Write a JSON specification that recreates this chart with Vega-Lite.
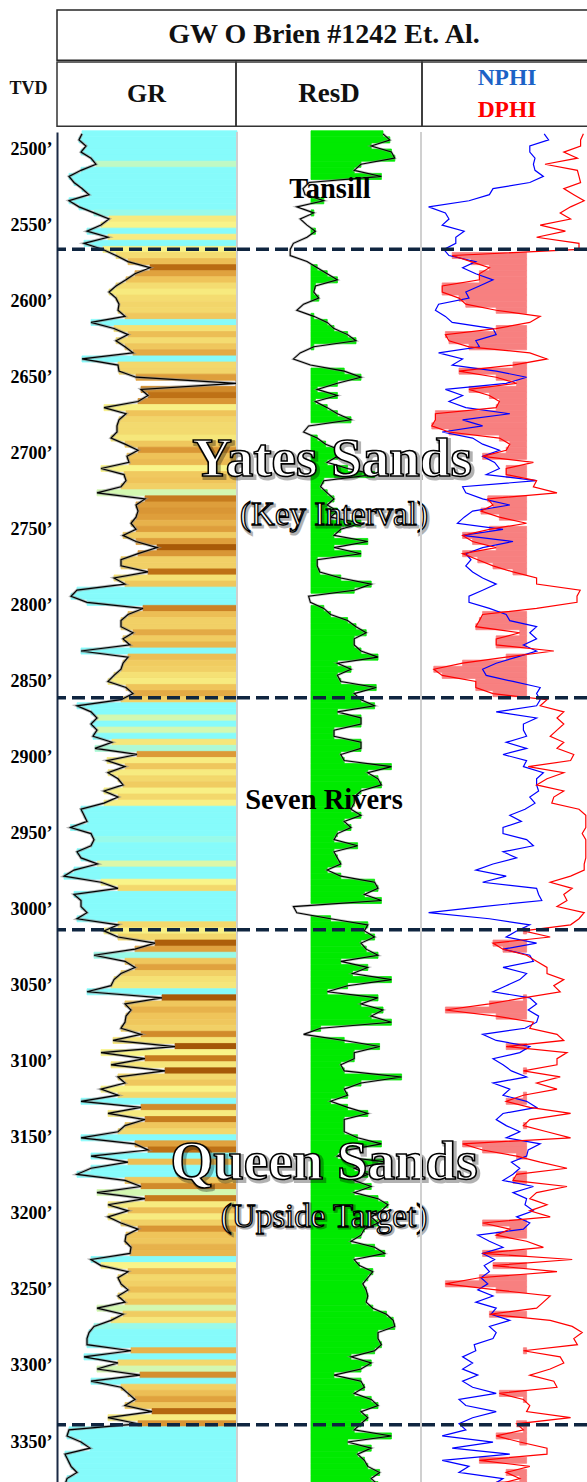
{
"$schema":"https://vega.github.io/schema/vega-lite/v6.json",
"padding":{"left":0,"top":9,"right":0,"bottom":0},
"background":"white",
"spacing":0,
"bounds":"full",
"config":{"view":{"stroke":null},"font":"Liberation Serif","concat":{"spacing":0}},
"datasets":{
"tops":[{"depth":2565.9},{"depth":2860.7},{"depth":3013.2},{"depth":3338.6}],
"log":[
{"depth":2490,"GR":25,"ResD":73.0,"NPHI":10.7,"DPHI":0.9},
{"depth":2494,"GR":22,"ResD":76.4,"NPHI":9.6,"DPHI":1.6},
{"depth":2498,"GR":29,"ResD":67.1,"NPHI":14.3,"DPHI":1.6},
{"depth":2502,"GR":24,"ResD":77.2,"NPHI":14.3,"DPHI":5.8},
{"depth":2506,"GR":34,"ResD":78.9,"NPHI":13.0,"DPHI":2.4},
{"depth":2510,"GR":39,"ResD":62.0,"NPHI":13.4,"DPHI":10.5},
{"depth":2514,"GR":24,"ResD":58.6,"NPHI":13.0,"DPHI":2.4},
{"depth":2518,"GR":12,"ResD":72.2,"NPHI":10.9,"DPHI":2.0},
{"depth":2522,"GR":17,"ResD":36.0,"NPHI":14.3,"DPHI":1.6},
{"depth":2526,"GR":25,"ResD":33.0,"NPHI":23.5,"DPHI":5.8},
{"depth":2530,"GR":32,"ResD":34.0,"NPHI":24.4,"DPHI":3.3},
{"depth":2534,"GR":12,"ResD":43.4,"NPHI":29.5,"DPHI":0.7},
{"depth":2538,"GR":22,"ResD":29.9,"NPHI":39.6,"DPHI":4.1},
{"depth":2542,"GR":37,"ResD":38.4,"NPHI":35.4,"DPHI":6.7},
{"depth":2546,"GR":52,"ResD":31.6,"NPHI":34.5,"DPHI":4.1},
{"depth":2550,"GR":44,"ResD":35.0,"NPHI":36.2,"DPHI":11.7},
{"depth":2554,"GR":30,"ResD":39.2,"NPHI":30.7,"DPHI":5.4},
{"depth":2558,"GR":51,"ResD":35.0,"NPHI":32.8,"DPHI":12.6},
{"depth":2562,"GR":27,"ResD":28.2,"NPHI":32.8,"DPHI":2.0},
{"depth":2566,"GR":46,"ResD":26.6,"NPHI":35.8,"DPHI":2.0},
{"depth":2570,"GR":59,"ResD":26.6,"NPHI":34.5,"DPHI":33.7},
{"depth":2574,"GR":71,"ResD":35.0,"NPHI":27.8,"DPHI":29.0},
{"depth":2578,"GR":93,"ResD":40.1,"NPHI":31.1,"DPHI":24.4},
{"depth":2582,"GR":78,"ResD":45.1,"NPHI":27.8,"DPHI":26.9},
{"depth":2586,"GR":69,"ResD":50.2,"NPHI":23.5,"DPHI":26.9},
{"depth":2590,"GR":59,"ResD":39.2,"NPHI":26.9,"DPHI":36.2},
{"depth":2594,"GR":52,"ResD":38.4,"NPHI":30.3,"DPHI":36.2},
{"depth":2598,"GR":59,"ResD":40.9,"NPHI":29.5,"DPHI":32.0},
{"depth":2602,"GR":62,"ResD":33.3,"NPHI":37.1,"DPHI":30.3},
{"depth":2606,"GR":61,"ResD":29.9,"NPHI":37.9,"DPHI":22.7},
{"depth":2610,"GR":68,"ResD":38.4,"NPHI":35.4,"DPHI":11.7},
{"depth":2614,"GR":34,"ResD":45.1,"NPHI":33.7,"DPHI":14.3},
{"depth":2618,"GR":57,"ResD":48.5,"NPHI":23.5,"DPHI":22.7},
{"depth":2622,"GR":71,"ResD":55.3,"NPHI":22.7,"DPHI":35.4},
{"depth":2626,"GR":59,"ResD":59.5,"NPHI":27.8,"DPHI":34.5},
{"depth":2630,"GR":68,"ResD":38.4,"NPHI":26.9,"DPHI":29.5},
{"depth":2634,"GR":76,"ResD":31.6,"NPHI":37.1,"DPHI":14.3},
{"depth":2638,"GR":25,"ResD":28.2,"NPHI":31.1,"DPHI":10.0},
{"depth":2642,"GR":61,"ResD":36.7,"NPHI":33.7,"DPHI":18.5},
{"depth":2646,"GR":62,"ResD":53.6,"NPHI":22.7,"DPHI":32.0},
{"depth":2650,"GR":79,"ResD":62.0,"NPHI":15.1,"DPHI":22.7},
{"depth":2654,"GR":179,"ResD":50.2,"NPHI":20.2,"DPHI":17.6},
{"depth":2658,"GR":84,"ResD":40.1,"NPHI":35.4,"DPHI":29.5},
{"depth":2662,"GR":91,"ResD":50.2,"NPHI":31.1,"DPHI":24.4},
{"depth":2666,"GR":81,"ResD":39.2,"NPHI":34.5,"DPHI":21.9},
{"depth":2670,"GR":47,"ResD":45.1,"NPHI":30.3,"DPHI":22.7},
{"depth":2674,"GR":69,"ResD":50.2,"NPHI":19.3,"DPHI":37.9},
{"depth":2678,"GR":62,"ResD":57.0,"NPHI":31.1,"DPHI":37.9},
{"depth":2682,"GR":60,"ResD":35.8,"NPHI":26.1,"DPHI":38.8},
{"depth":2686,"GR":60,"ResD":33.3,"NPHI":36.2,"DPHI":34.5},
{"depth":2690,"GR":54,"ResD":40.1,"NPHI":28.6,"DPHI":21.9},
{"depth":2694,"GR":68,"ResD":44.3,"NPHI":26.1,"DPHI":19.3},
{"depth":2698,"GR":81,"ResD":51.9,"NPHI":21.9,"DPHI":20.2},
{"depth":2702,"GR":70,"ResD":50.2,"NPHI":26.1,"DPHI":26.1},
{"depth":2706,"GR":72,"ResD":45.1,"NPHI":23.1,"DPHI":13.4},
{"depth":2710,"GR":44,"ResD":55.3,"NPHI":21.9,"DPHI":20.2},
{"depth":2714,"GR":67,"ResD":68.8,"NPHI":25.2,"DPHI":20.2},
{"depth":2718,"GR":69,"ResD":43.4,"NPHI":12.6,"DPHI":12.6},
{"depth":2722,"GR":64,"ResD":41.8,"NPHI":31.1,"DPHI":13.4},
{"depth":2726,"GR":40,"ResD":45.1,"NPHI":30.3,"DPHI":7.5},
{"depth":2730,"GR":88,"ResD":48.5,"NPHI":26.1,"DPHI":24.8},
{"depth":2734,"GR":79,"ResD":45.1,"NPHI":19.3,"DPHI":23.5},
{"depth":2738,"GR":81,"ResD":50.2,"NPHI":28.6,"DPHI":26.5},
{"depth":2742,"GR":79,"ResD":46.8,"NPHI":30.7,"DPHI":21.9},
{"depth":2746,"GR":74,"ResD":62.0,"NPHI":32.4,"DPHI":15.1},
{"depth":2750,"GR":79,"ResD":51.9,"NPHI":21.0,"DPHI":24.4},
{"depth":2754,"GR":66,"ResD":48.5,"NPHI":31.1,"DPHI":31.1},
{"depth":2758,"GR":79,"ResD":65.4,"NPHI":18.5,"DPHI":28.6},
{"depth":2762,"GR":100,"ResD":48.5,"NPHI":26.1,"DPHI":22.7},
{"depth":2766,"GR":81,"ResD":62.0,"NPHI":30.3,"DPHI":31.1},
{"depth":2770,"GR":64,"ResD":40.1,"NPHI":29.0,"DPHI":27.3},
{"depth":2774,"GR":64,"ResD":40.1,"NPHI":30.3,"DPHI":23.5},
{"depth":2778,"GR":91,"ResD":41.4,"NPHI":28.6,"DPHI":18.5},
{"depth":2782,"GR":57,"ResD":51.9,"NPHI":26.1,"DPHI":12.6},
{"depth":2786,"GR":68,"ResD":67.1,"NPHI":22.7,"DPHI":12.6},
{"depth":2790,"GR":20,"ResD":58.6,"NPHI":26.1,"DPHI":1.7},
{"depth":2794,"GR":14,"ResD":35.8,"NPHI":29.5,"DPHI":2.5},
{"depth":2798,"GR":30,"ResD":36.7,"NPHI":29.5,"DPHI":2.5},
{"depth":2802,"GR":86,"ResD":43.4,"NPHI":24.4,"DPHI":12.6},
{"depth":2806,"GR":71,"ResD":46.8,"NPHI":20.2,"DPHI":26.1},
{"depth":2810,"GR":64,"ResD":55.3,"NPHI":19.3,"DPHI":26.9},
{"depth":2814,"GR":64,"ResD":59.5,"NPHI":12.6,"DPHI":27.8},
{"depth":2818,"GR":76,"ResD":64.6,"NPHI":14.3,"DPHI":16.8},
{"depth":2822,"GR":66,"ResD":58.6,"NPHI":12.6,"DPHI":22.7},
{"depth":2826,"GR":73,"ResD":58.6,"NPHI":15.9,"DPHI":22.7},
{"depth":2830,"GR":24,"ResD":62.0,"NPHI":12.6,"DPHI":8.3},
{"depth":2834,"GR":71,"ResD":70.5,"NPHI":17.6,"DPHI":20.2},
{"depth":2838,"GR":66,"ResD":50.2,"NPHI":22.7,"DPHI":31.1},
{"depth":2842,"GR":64,"ResD":57.0,"NPHI":26.1,"DPHI":38.3},
{"depth":2846,"GR":57,"ResD":50.2,"NPHI":25.2,"DPHI":36.2},
{"depth":2850,"GR":51,"ResD":51.9,"NPHI":18.5,"DPHI":27.8},
{"depth":2854,"GR":69,"ResD":69.6,"NPHI":11.7,"DPHI":27.8},
{"depth":2858,"GR":76,"ResD":58.6,"NPHI":12.6,"DPHI":23.5},
{"depth":2862,"GR":64,"ResD":62.0,"NPHI":11.7,"DPHI":10.0},
{"depth":2866,"GR":20,"ResD":68.8,"NPHI":12.6,"DPHI":11.7},
{"depth":2870,"GR":34,"ResD":50.2,"NPHI":22.7,"DPHI":5.8},
{"depth":2874,"GR":40,"ResD":62.0,"NPHI":12.6,"DPHI":7.5},
{"depth":2878,"GR":34,"ResD":62.0,"NPHI":15.9,"DPHI":5.8},
{"depth":2882,"GR":40,"ResD":48.5,"NPHI":15.9,"DPHI":7.5},
{"depth":2886,"GR":36,"ResD":48.5,"NPHI":15.1,"DPHI":9.2},
{"depth":2890,"GR":55,"ResD":62.0,"NPHI":20.2,"DPHI":5.8},
{"depth":2894,"GR":38,"ResD":62.0,"NPHI":15.1,"DPHI":7.5},
{"depth":2898,"GR":80,"ResD":51.9,"NPHI":21.0,"DPHI":3.3},
{"depth":2902,"GR":50,"ResD":53.6,"NPHI":15.1,"DPHI":4.1},
{"depth":2906,"GR":68,"ResD":77.2,"NPHI":15.9,"DPHI":14.7},
{"depth":2910,"GR":51,"ResD":65.4,"NPHI":10.9,"DPHI":5.8},
{"depth":2914,"GR":61,"ResD":70.5,"NPHI":12.6,"DPHI":10.0},
{"depth":2918,"GR":66,"ResD":72.2,"NPHI":12.6,"DPHI":12.6},
{"depth":2922,"GR":47,"ResD":62.0,"NPHI":12.1,"DPHI":5.8},
{"depth":2926,"GR":61,"ResD":58.6,"NPHI":14.3,"DPHI":8.3},
{"depth":2930,"GR":47,"ResD":58.6,"NPHI":13.0,"DPHI":8.8},
{"depth":2934,"GR":24,"ResD":57.0,"NPHI":15.5,"DPHI":2.0},
{"depth":2938,"GR":27,"ResD":62.0,"NPHI":19.3,"DPHI":0.3},
{"depth":2942,"GR":30,"ResD":53.6,"NPHI":16.4,"DPHI":0.3},
{"depth":2946,"GR":13.5,"ResD":57.0,"NPHI":21.0,"DPHI":0.3},
{"depth":2950,"GR":34,"ResD":50.2,"NPHI":21.0,"DPHI":1.2},
{"depth":2954,"GR":37,"ResD":48.5,"NPHI":15.1,"DPHI":0.3},
{"depth":2958,"GR":34,"ResD":60.3,"NPHI":13.4,"DPHI":0.3},
{"depth":2962,"GR":20,"ResD":48.5,"NPHI":21.0,"DPHI":0.3},
{"depth":2966,"GR":24,"ResD":50.2,"NPHI":17.6,"DPHI":0.3},
{"depth":2970,"GR":40.5,"ResD":51.9,"NPHI":23.5,"DPHI":0.7},
{"depth":2974,"GR":17,"ResD":45.1,"NPHI":27.8,"DPHI":0.7},
{"depth":2978,"GR":7,"ResD":51.9,"NPHI":20.2,"DPHI":4.1},
{"depth":2982,"GR":44,"ResD":68.8,"NPHI":26.1,"DPHI":9.2},
{"depth":2986,"GR":61,"ResD":70.5,"NPHI":12.6,"DPHI":3.7},
{"depth":2990,"GR":17,"ResD":63.7,"NPHI":12.1,"DPHI":5.8},
{"depth":2994,"GR":24,"ResD":72.2,"NPHI":11.3,"DPHI":5.0},
{"depth":2998,"GR":24,"ResD":28.2,"NPHI":26.1,"DPHI":7.5},
{"depth":3002,"GR":30,"ResD":29.9,"NPHI":39.6,"DPHI":0.7},
{"depth":3006,"GR":20,"ResD":46.8,"NPHI":24.4,"DPHI":2.0},
{"depth":3010,"GR":61,"ResD":65.4,"NPHI":14.3,"DPHI":4.1},
{"depth":3014,"GR":47,"ResD":63.7,"NPHI":17.6,"DPHI":15.9},
{"depth":3018,"GR":61,"ResD":68.8,"NPHI":20.2,"DPHI":9.2},
{"depth":3022,"GR":98,"ResD":62.0,"NPHI":12.6,"DPHI":23.5},
{"depth":3026,"GR":78,"ResD":64.6,"NPHI":21.0,"DPHI":21.0},
{"depth":3030,"GR":37,"ResD":70.5,"NPHI":14.3,"DPHI":15.1},
{"depth":3034,"GR":68,"ResD":51.9,"NPHI":13.4,"DPHI":12.6},
{"depth":3038,"GR":78,"ResD":65.4,"NPHI":21.0,"DPHI":10.0},
{"depth":3042,"GR":64,"ResD":57.8,"NPHI":15.1,"DPHI":10.0},
{"depth":3046,"GR":57,"ResD":77.2,"NPHI":16.8,"DPHI":5.8},
{"depth":3050,"GR":54,"ResD":55.3,"NPHI":20.2,"DPHI":8.3},
{"depth":3054,"GR":30,"ResD":45.1,"NPHI":23.5,"DPHI":6.7},
{"depth":3058,"GR":105,"ResD":70.5,"NPHI":14.3,"DPHI":15.9},
{"depth":3062,"GR":68,"ResD":62.0,"NPHI":12.6,"DPHI":24.4},
{"depth":3066,"GR":74,"ResD":73.0,"NPHI":14.7,"DPHI":35.4},
{"depth":3070,"GR":69,"ResD":67.1,"NPHI":12.1,"DPHI":22.7},
{"depth":3074,"GR":68,"ResD":77.2,"NPHI":12.6,"DPHI":13.4},
{"depth":3078,"GR":64,"ResD":41.8,"NPHI":15.5,"DPHI":14.3},
{"depth":3082,"GR":84,"ResD":33.3,"NPHI":26.1,"DPHI":7.5},
{"depth":3086,"GR":56,"ResD":53.6,"NPHI":22.7,"DPHI":5.8},
{"depth":3090,"GR":118,"ResD":71.3,"NPHI":14.3,"DPHI":20.2},
{"depth":3094,"GR":44,"ResD":58.6,"NPHI":16.8,"DPHI":5.0},
{"depth":3098,"GR":88,"ResD":58.6,"NPHI":23.5,"DPHI":7.5},
{"depth":3102,"GR":54,"ResD":51.9,"NPHI":21.0,"DPHI":7.5},
{"depth":3106,"GR":108,"ResD":53.6,"NPHI":18.9,"DPHI":15.9},
{"depth":3110,"GR":61,"ResD":82.3,"NPHI":15.1,"DPHI":6.7},
{"depth":3114,"GR":68,"ResD":62.0,"NPHI":23.5,"DPHI":12.6},
{"depth":3118,"GR":44,"ResD":53.6,"NPHI":19.3,"DPHI":7.5},
{"depth":3122,"GR":61,"ResD":55.3,"NPHI":21.0,"DPHI":15.9},
{"depth":3126,"GR":24,"ResD":46.8,"NPHI":15.1,"DPHI":20.2},
{"depth":3130,"GR":84,"ResD":55.3,"NPHI":12.6,"DPHI":14.3},
{"depth":3134,"GR":51,"ResD":65.4,"NPHI":21.0,"DPHI":4.1},
{"depth":3138,"GR":88,"ResD":53.6,"NPHI":22.7,"DPHI":14.3},
{"depth":3142,"GR":68,"ResD":53.6,"NPHI":20.2,"DPHI":15.9},
{"depth":3146,"GR":61,"ResD":53.6,"NPHI":16.8,"DPHI":10.0},
{"depth":3150,"GR":24,"ResD":60.3,"NPHI":20.2,"DPHI":4.1},
{"depth":3154,"GR":78,"ResD":72.2,"NPHI":11.7,"DPHI":31.1},
{"depth":3158,"GR":91,"ResD":55.3,"NPHI":14.7,"DPHI":26.1},
{"depth":3162,"GR":34,"ResD":50.2,"NPHI":15.1,"DPHI":17.6},
{"depth":3166,"GR":71,"ResD":75.5,"NPHI":18.9,"DPHI":11.7},
{"depth":3170,"GR":34,"ResD":58.6,"NPHI":16.8,"DPHI":5.0},
{"depth":3174,"GR":20,"ResD":65.4,"NPHI":18.5,"DPHI":17.6},
{"depth":3178,"GR":68,"ResD":58.6,"NPHI":21.0,"DPHI":18.5},
{"depth":3182,"GR":84,"ResD":67.1,"NPHI":13.4,"DPHI":5.0},
{"depth":3186,"GR":40,"ResD":58.6,"NPHI":18.5,"DPHI":12.6},
{"depth":3190,"GR":88,"ResD":70.5,"NPHI":15.1,"DPHI":14.3},
{"depth":3194,"GR":51,"ResD":75.5,"NPHI":15.5,"DPHI":10.0},
{"depth":3198,"GR":71,"ResD":72.2,"NPHI":13.4,"DPHI":14.3},
{"depth":3202,"GR":51,"ResD":67.1,"NPHI":17.6,"DPHI":9.2},
{"depth":3206,"GR":64,"ResD":70.5,"NPHI":14.3,"DPHI":26.1},
{"depth":3210,"GR":81,"ResD":63.7,"NPHI":15.9,"DPHI":19.3},
{"depth":3214,"GR":69,"ResD":62.0,"NPHI":27.3,"DPHI":22.7},
{"depth":3218,"GR":68,"ResD":57.0,"NPHI":24.4,"DPHI":15.1},
{"depth":3222,"GR":74,"ResD":68.8,"NPHI":21.0,"DPHI":10.9},
{"depth":3226,"GR":73,"ResD":73.9,"NPHI":26.1,"DPHI":26.1},
{"depth":3230,"GR":34,"ResD":58.6,"NPHI":23.1,"DPHI":3.7},
{"depth":3234,"GR":44,"ResD":61.2,"NPHI":25.7,"DPHI":23.5},
{"depth":3238,"GR":71,"ResD":67.9,"NPHI":24.4,"DPHI":7.5},
{"depth":3242,"GR":61,"ResD":65.4,"NPHI":26.5,"DPHI":26.9},
{"depth":3246,"GR":64,"ResD":62.9,"NPHI":24.8,"DPHI":35.4},
{"depth":3250,"GR":71,"ResD":64.6,"NPHI":27.3,"DPHI":22.7},
{"depth":3254,"GR":61,"ResD":65.4,"NPHI":23.5,"DPHI":9.2},
{"depth":3258,"GR":68,"ResD":64.6,"NPHI":27.8,"DPHI":10.9},
{"depth":3262,"GR":40,"ResD":67.9,"NPHI":22.7,"DPHI":12.6},
{"depth":3266,"GR":66,"ResD":74.7,"NPHI":24.0,"DPHI":24.4},
{"depth":3270,"GR":54,"ResD":78.1,"NPHI":19.3,"DPHI":9.2},
{"depth":3274,"GR":37,"ResD":78.9,"NPHI":24.4,"DPHI":3.7},
{"depth":3278,"GR":32,"ResD":70.5,"NPHI":22.7,"DPHI":1.2},
{"depth":3282,"GR":30,"ResD":70.5,"NPHI":23.5,"DPHI":3.3},
{"depth":3286,"GR":30,"ResD":72.2,"NPHI":28.2,"DPHI":2.4},
{"depth":3290,"GR":74,"ResD":68.8,"NPHI":27.8,"DPHI":15.9},
{"depth":3294,"GR":27,"ResD":57.0,"NPHI":31.1,"DPHI":6.7},
{"depth":3298,"GR":61,"ResD":67.1,"NPHI":28.6,"DPHI":5.8},
{"depth":3302,"GR":40,"ResD":62.0,"NPHI":31.1,"DPHI":9.2},
{"depth":3306,"GR":83,"ResD":48.5,"NPHI":27.3,"DPHI":14.3},
{"depth":3310,"GR":34,"ResD":62.0,"NPHI":31.1,"DPHI":8.3},
{"depth":3314,"GR":64,"ResD":63.7,"NPHI":28.6,"DPHI":7.5},
{"depth":3318,"GR":71,"ResD":58.6,"NPHI":22.7,"DPHI":21.9},
{"depth":3322,"GR":78,"ResD":67.1,"NPHI":32.0,"DPHI":15.9},
{"depth":3326,"GR":68,"ResD":70.5,"NPHI":30.3,"DPHI":14.3},
{"depth":3330,"GR":95,"ResD":62.0,"NPHI":22.7,"DPHI":15.1},
{"depth":3334,"GR":51,"ResD":65.4,"NPHI":28.6,"DPHI":4.1},
{"depth":3338,"GR":81,"ResD":62.0,"NPHI":32.0,"DPHI":17.6},
{"depth":3342,"GR":12,"ResD":58.6,"NPHI":30.3,"DPHI":15.9},
{"depth":3346,"GR":10,"ResD":77.2,"NPHI":36.2,"DPHI":22.7},
{"depth":3350,"GR":24,"ResD":55.3,"NPHI":23.5,"DPHI":16.8},
{"depth":3354,"GR":33,"ResD":67.1,"NPHI":33.7,"DPHI":10.0},
{"depth":3358,"GR":8,"ResD":60.3,"NPHI":19.3,"DPHI":10.0},
{"depth":3362,"GR":11,"ResD":63.7,"NPHI":36.2,"DPHI":26.9},
{"depth":3366,"GR":14,"ResD":65.4,"NPHI":29.5,"DPHI":14.3},
{"depth":3370,"GR":20,"ResD":71.3,"NPHI":32.0,"DPHI":20.2},
{"depth":3374,"GR":10,"ResD":67.1,"NPHI":21.0,"DPHI":16.8},
{"depth":3378,"GR":8,"ResD":70.5,"NPHI":23.5,"DPHI":22.7}
],
"big":[{"label":"Yates Sands","depth":2703.8,"pos":47.5},{"label":"Queen Sands","depth":3165.9,"pos":43.5}],
"sub":[{"label":"(Key Interval)","depth":2740.6,"pos":48.5},{"label":"(Upside Target)","depth":3202,"pos":43.5}]
},
"vconcat":[
{"spacing":0,"bounds":"flush","hconcat":[
 {"width":57,"height":50.25,"data":{"values":[{}]},"mark":{"type":"text","text":""}},
 {"width":534,"height":50.25,"view":{"stroke":"#262626","strokeWidth":1.5},
  "data":{"values":[{"t":"GW O Brien #1242 Et. Al."}]},
  "mark":{"type":"text","font":"Liberation Serif","fontSize":28,"fontWeight":"bold","color":"#111"},
  "encoding":{"text":{"field":"t"}}}
]},
{"spacing":0,"bounds":"flush","hconcat":[
 {"width":57,"height":64.25,"data":{"values":[{"t":"TVD"}]},
  "mark":{"type":"text","font":"Liberation Serif","fontSize":18,"fontWeight":"bold","color":"#111","baseline":"alphabetic"},
  "encoding":{"text":{"field":"t"}}},
 {"width":179,"height":64.25,"view":{"stroke":"#333","strokeWidth":1.5},
  "data":{"values":[{"t":"GR"}]},
  "mark":{"type":"text","font":"Liberation Serif","fontSize":26,"fontWeight":"bold","color":"#111"},
  "encoding":{"text":{"field":"t"}}},
 {"width":186,"height":64.25,"view":{"stroke":"#333","strokeWidth":1.5},
  "data":{"values":[{"t":"ResD"}]},
  "mark":{"type":"text","font":"Liberation Serif","fontSize":27,"fontWeight":"bold","color":"#111"},
  "encoding":{"text":{"field":"t"}}},
 {"width":170,"height":64.25,"view":{"stroke":"#333","strokeWidth":1.5},
  "data":{"values":[{"t":"NPHI"},{"t":"DPHI"}]},
  "mark":{"type":"text","font":"Liberation Serif","fontSize":23.5,"fontWeight":"bold"},
  "encoding":{
   "text":{"field":"t"},
   "y":{"field":"t","type":"nominal","sort":["NPHI","DPHI"],"scale":{"type":"point","padding":0.5},"axis":null},
   "color":{"field":"t","type":"nominal","scale":{"domain":["NPHI","DPHI"],"range":["#1c62c6","#ff0000"]},"legend":null}}}
]},
{"spacing":0,"bounds":"flush","hconcat":[
 {"width":57,"height":1354,"data":{"values":[{}]},"mark":{"type":"text","text":""}},
 {"width":180,"height":1354,"data":{"name":"log"},
  "layer":[
   {"transform":[{"bin":{"step":4,"anchor":2488,"extent":[2488,3380]},"field":"depth","as":["d0","d1"]}],
    "mark":{"type":"rect","strokeWidth":0.8},
    "encoding":{
     "y":{"field":"d0","type":"quantitative","scale":{"domain":[2488.8,3378.9],"reverse":true,"nice":false,"zero":false},
      "axis":{"values":[2500,2550,2600,2650,2700,2750,2800,2850,2900,2950,3000,3050,3100,3150,3200,3250,3300,3350],"labelExpr":"datum.value + '’'","labelFont":"Liberation Serif","labelFontSize":18,"labelFontWeight":"bold","labelColor":"#000","ticks":false,"labelPadding":5,"domainColor":"#1b2a45","domainWidth":2,"grid":false,"title":null,"minExtent":57,"maxExtent":57,"labelFlush":false,"labelOverlap":false}},
     "y2":{"field":"d1"},
     "x":{"field":"GR","type":"quantitative","scale":{"domain":[0,180],"nice":false,"zero":false},"axis":null},
     "x2":{"datum":180},
     "color":{"field":"GR","type":"quantitative","scale":{"type":"linear","domain":[0,36,42,55,70,80,90,100,180],"range":["#86fbfb","#86fbfb","#faf68c","#f6e67a","#eec258","#dc9a38","#c07418","#a85a08","#944c04"],"interpolate":"rgb"},"legend":null},
     "stroke":{"field":"GR","type":"quantitative","scale":{"type":"linear","domain":[0,36,42,55,70,80,90,100,180],"range":["#86fbfb","#86fbfb","#faf68c","#f6e67a","#eec258","#dc9a38","#c07418","#a85a08","#944c04"],"interpolate":"rgb"},"legend":null}}},
   {"mark":{"type":"line","color":"#8c8c8c","strokeWidth":3,"opacity":0.6},
    "encoding":{"y":{"field":"depth","type":"quantitative","scale":{"domain":[2488.8,3378.9],"reverse":true,"nice":false,"zero":false}},
     "x":{"field":"GR","type":"quantitative","scale":{"domain":[0,180],"nice":false,"zero":false},"axis":null},
     "order":{"field":"depth","type":"quantitative"}}},
   {"mark":{"type":"line","color":"#000","strokeWidth":1.2},
    "encoding":{"y":{"field":"depth","type":"quantitative","scale":{"domain":[2488.8,3378.9],"reverse":true,"nice":false,"zero":false}},
     "x":{"field":"GR","type":"quantitative","scale":{"domain":[0,180],"nice":false,"zero":false},"axis":null},
     "order":{"field":"depth","type":"quantitative"}}},
   {"data":{"name":"tops"},"mark":{"type":"rule","color":"#0f2540","strokeWidth":3.5,"strokeDash":[13,6]},
    "encoding":{"y":{"field":"depth","type":"quantitative","scale":{"domain":[2488.8,3378.9],"reverse":true,"nice":false,"zero":false}}}}
  ]},
 {"width":184,"height":1354,
  "layer":[
   {"data":{"name":"log"},
    "transform":[{"filter":"datum.ResD > 37"},{"bin":{"step":4,"anchor":2488,"extent":[2488,3380]},"field":"depth","as":["d0","d1"]}],
    "mark":{"type":"rect","color":"#00ea00","stroke":"#00ea00","strokeWidth":0.8},
    "encoding":{"y":{"field":"d0","type":"quantitative","scale":{"domain":[2488.8,3378.9],"reverse":true,"nice":false,"zero":false},"axis":null},
     "y2":{"field":"d1"},
     "x":{"field":"ResD","type":"quantitative","scale":{"domain":[0,92],"nice":false,"zero":false},"axis":null},
     "x2":{"datum":37}}},
   {"data":{"values":[{"edge":0}]},"mark":{"type":"rule","color":"#d0d0d0","strokeWidth":2},
    "encoding":{"x":{"field":"edge","type":"quantitative","scale":{"domain":[0,92],"nice":false,"zero":false},"axis":null}}},
   {"data":{"name":"log"},"mark":{"type":"line","color":"#8c8c8c","strokeWidth":2.6,"opacity":0.5},
    "encoding":{"y":{"field":"depth","type":"quantitative","scale":{"domain":[2488.8,3378.9],"reverse":true,"nice":false,"zero":false},"axis":null},
     "x":{"field":"ResD","type":"quantitative","scale":{"domain":[0,92],"nice":false,"zero":false},"axis":null},
     "order":{"field":"depth","type":"quantitative"}}},
   {"data":{"name":"log"},"mark":{"type":"line","color":"#000","strokeWidth":1.1},
    "encoding":{"y":{"field":"depth","type":"quantitative","scale":{"domain":[2488.8,3378.9],"reverse":true,"nice":false,"zero":false},"axis":null},
     "x":{"field":"ResD","type":"quantitative","scale":{"domain":[0,92],"nice":false,"zero":false},"axis":null},
     "order":{"field":"depth","type":"quantitative"}}},
   {"data":{"name":"tops"},"mark":{"type":"rule","color":"#0f2540","strokeWidth":3.5,"strokeDash":[13,6]},
    "encoding":{"y":{"field":"depth","type":"quantitative","scale":{"domain":[2488.8,3378.9],"reverse":true,"nice":false,"zero":false},"axis":null}}},
   {"data":{"values":[{"label":"Tansill","depth":2526.3,"pos":46.5},{"label":"Seven Rivers","depth":2928,"pos":43.5}]},
    "mark":{"type":"text","font":"Liberation Serif","fontSize":28.5,"fontWeight":"bold","color":"#000"},
    "encoding":{"y":{"field":"depth","type":"quantitative","scale":{"domain":[2488.8,3378.9],"reverse":true,"nice":false,"zero":false},"axis":null},
     "x":{"field":"pos","type":"quantitative","scale":{"domain":[0,92],"nice":false,"zero":false},"axis":null},
     "text":{"field":"label"}}},
   {"data":{"name":"big"},
    "mark":{"type":"text","font":"Liberation Serif","fontSize":55,"fontWeight":"bold","fill":"#000","stroke":"#000","strokeWidth":4,"opacity":0.3,"dx":2,"dy":2},
    "encoding":{"y":{"field":"depth","type":"quantitative","scale":{"domain":[2488.8,3378.9],"reverse":true,"nice":false,"zero":false},"axis":null},
     "x":{"field":"pos","type":"quantitative","scale":{"domain":[0,92],"nice":false,"zero":false},"axis":null},
     "text":{"field":"label"}}},
   {"data":{"name":"big"},
    "mark":{"type":"text","font":"Liberation Serif","fontSize":55,"fontWeight":"bold","fill":"#fff","stroke":"#000","strokeWidth":1.6},
    "encoding":{"y":{"field":"depth","type":"quantitative","scale":{"domain":[2488.8,3378.9],"reverse":true,"nice":false,"zero":false},"axis":null},
     "x":{"field":"pos","type":"quantitative","scale":{"domain":[0,92],"nice":false,"zero":false},"axis":null},
     "text":{"field":"label"}}},
   {"data":{"name":"sub"},
    "mark":{"type":"text","font":"Liberation Serif","fontSize":33,"fontWeight":"normal","fill":"#000","stroke":"#000","strokeWidth":3,"opacity":0.3,"dx":1.5,"dy":1.5},
    "encoding":{"y":{"field":"depth","type":"quantitative","scale":{"domain":[2488.8,3378.9],"reverse":true,"nice":false,"zero":false},"axis":null},
     "x":{"field":"pos","type":"quantitative","scale":{"domain":[0,92],"nice":false,"zero":false},"axis":null},
     "text":{"field":"label"}}},
   {"data":{"name":"sub"},
    "mark":{"type":"text","font":"Liberation Serif","fontSize":33,"fontWeight":"normal","fill":"#fff","stroke":"#000","strokeWidth":1.3},
    "encoding":{"y":{"field":"depth","type":"quantitative","scale":{"domain":[2488.8,3378.9],"reverse":true,"nice":false,"zero":false},"axis":null},
     "x":{"field":"pos","type":"quantitative","scale":{"domain":[0,92],"nice":false,"zero":false},"axis":null},
     "text":{"field":"label"}}}
  ]},
 {"width":166,"height":1354,
  "layer":[
   {"data":{"name":"log"},
    "transform":[{"filter":"datum.DPHI > 15.1"},{"bin":{"step":4,"anchor":2488,"extent":[2488,3380]},"field":"depth","as":["d0","d1"]}],
    "mark":{"type":"rect","color":"#f78080","stroke":"#f78080","strokeWidth":0.8},
    "encoding":{"y":{"field":"d0","type":"quantitative","scale":{"domain":[2488.8,3378.9],"reverse":true,"nice":false,"zero":false},"axis":null},
     "y2":{"field":"d1"},
     "x":{"field":"DPHI","type":"quantitative","scale":{"domain":[0,41.5],"reverse":true,"nice":false,"zero":false},"axis":null},
     "x2":{"datum":15.1}}},
   {"data":{"values":[{"edge":41.5}]},"mark":{"type":"rule","color":"#d0d0d0","strokeWidth":2},
    "encoding":{"x":{"field":"edge","type":"quantitative","scale":{"domain":[0,41.5],"reverse":true,"nice":false,"zero":false},"axis":null}}},
   {"data":{"name":"log"},"mark":{"type":"line","color":"#0000ff","strokeWidth":1.2},
    "encoding":{"y":{"field":"depth","type":"quantitative","scale":{"domain":[2488.8,3378.9],"reverse":true,"nice":false,"zero":false},"axis":null},
     "x":{"field":"NPHI","type":"quantitative","scale":{"domain":[0,41.5],"reverse":true,"nice":false,"zero":false},"axis":null},
     "order":{"field":"depth","type":"quantitative"}}},
   {"data":{"name":"log"},"mark":{"type":"line","color":"#ff0000","strokeWidth":1.2},
    "encoding":{"y":{"field":"depth","type":"quantitative","scale":{"domain":[2488.8,3378.9],"reverse":true,"nice":false,"zero":false},"axis":null},
     "x":{"field":"DPHI","type":"quantitative","scale":{"domain":[0,41.5],"reverse":true,"nice":false,"zero":false},"axis":null},
     "order":{"field":"depth","type":"quantitative"}}},
   {"data":{"name":"tops"},"mark":{"type":"rule","color":"#0f2540","strokeWidth":3.5,"strokeDash":[13,6]},
    "encoding":{"y":{"field":"depth","type":"quantitative","scale":{"domain":[2488.8,3378.9],"reverse":true,"nice":false,"zero":false},"axis":null}}}
  ]}
]}
]
}
